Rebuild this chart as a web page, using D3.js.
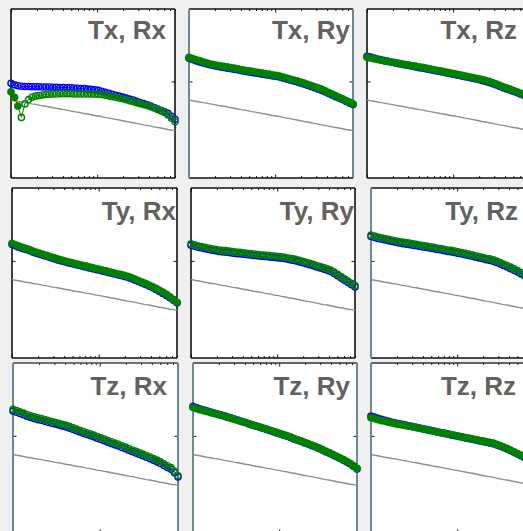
<!DOCTYPE html>
<html>
<head>
<meta charset="utf-8">
<script src="https://cdn.jsdelivr.net/npm/d3@7"></script>
<style>
  html, body { margin: 0; padding: 0; background: #f0f0f0; overflow: hidden; }
  svg { display: block; }
</style>
</head>
<body>
<div id="grid"></div>
<script>
// Frequency axis (log spaced, shared by every panel)
var freq = [1.00, 1.10, 1.20, 1.32, 1.45, 1.60, 1.75, 1.92, 2.11, 2.32, 2.54, 2.79, 3.06, 3.36, 3.69, 4.05,
  4.45, 4.88, 5.36, 5.88, 6.46, 7.09, 7.78, 8.54, 9.37, 10.3, 11.3, 12.4, 13.6, 14.9, 16.4, 18.0,
  19.8, 21.7, 23.8, 26.2, 28.7, 31.5, 34.6, 38.0, 41.7, 45.8, 50.2, 55.1, 60.5, 66.4, 72.9, 80.0];

// Tick values
var majorTicks = [1, 10];
var minorTicks = [2, 3, 4, 5, 6, 7, 8, 9, 20, 30, 40, 50, 60, 70, 80];
var yTicks = [-60];

// Panel titles
var titles = ["Tx, Rx", "Tx, Ry", "Tx, Rz", "Ty, Rx", "Ty, Ry", "Ty, Rz", "Tz, Rx", "Tz, Ry", "Tz, Rz"];

// Reference (gray) curve, same in every panel
var reference = [-67.7, -68.0, -68.2, -68.5, -68.8, -69.0, -69.3, -69.5, -69.8, -70.1, -70.3, -70.6, -70.9, -71.1, -71.4, -71.7,
  -71.9, -72.2, -72.5, -72.7, -73.0, -73.3, -73.5, -73.8, -74.1, -74.3, -74.6, -74.9, -75.2, -75.4, -75.7, -76.0,
  -76.3, -76.6, -76.8, -77.1, -77.4, -77.7, -78.0, -78.2, -78.5, -78.8, -79.1, -79.3, -79.6, -79.9, -80.1, -80.4];

// Blue / green series per panel (dB)
var txRxBlue = [-60.8, -61.4, -61.8, -62.0, -62.1, -62.1, -62.2, -62.2, -62.2, -62.3, -62.3, -62.3, -62.4, -62.4, -62.5, -62.5,
  -62.6, -62.6, -62.7, -62.8, -62.9, -63.0, -63.2, -63.3, -63.5, -63.7, -64.1, -64.5, -64.9, -65.3, -65.7, -66.1,
  -66.5, -66.9, -67.3, -67.7, -68.2, -68.7, -69.2, -69.7, -70.2, -70.8, -71.4, -72.0, -72.6, -73.2, -74.4, -75.7];
var txRxGreen = [-64.3, -66.6, -70.2, -74.9, -69.3, -67.5, -66.6, -66.1, -65.8, -65.6, -65.4, -65.3, -65.2, -65.2, -65.1, -65.1,
  -65.1, -65.1, -65.2, -65.2, -65.2, -65.2, -65.2, -65.2, -65.3, -65.3, -65.4, -65.7, -66.0, -66.3, -66.6, -66.9,
  -67.2, -67.6, -68.0, -68.4, -68.8, -69.2, -69.6, -70.0, -70.5, -71.0, -71.6, -72.2, -72.9, -73.9, -75.2, -76.7];

var txRyBlue = [-50.4, -50.9, -51.4, -51.9, -52.3, -52.7, -53.1, -53.4, -53.7, -54.0, -54.2, -54.5, -54.7, -55.0, -55.2, -55.5,
  -55.8, -56.0, -56.3, -56.5, -56.7, -57.0, -57.2, -57.4, -57.7, -57.9, -58.2, -58.6, -59.0, -59.4, -59.8, -60.2,
  -60.7, -61.1, -61.6, -62.1, -62.6, -63.1, -63.7, -64.3, -65.0, -65.6, -66.3, -66.9, -67.5, -68.2, -68.9, -69.6];
var txRyGreen = [-50.0, -50.5, -51.0, -51.4, -51.9, -52.3, -52.7, -53.0, -53.3, -53.5, -53.8, -54.0, -54.3, -54.5, -54.8, -55.1,
  -55.4, -55.6, -55.8, -56.1, -56.3, -56.5, -56.8, -57.0, -57.3, -57.5, -57.8, -58.2, -58.6, -59.0, -59.4, -59.8,
  -60.3, -60.7, -61.2, -61.7, -62.2, -62.7, -63.2, -63.9, -64.6, -65.2, -65.9, -66.6, -67.2, -67.9, -68.6, -69.3];

var txRzBlue = [-49.6, -49.9, -50.3, -50.7, -51.0, -51.4, -51.7, -52.0, -52.3, -52.6, -52.9, -53.2, -53.4, -53.7, -54.0, -54.3,
  -54.5, -54.8, -55.1, -55.4, -55.7, -55.9, -56.2, -56.5, -56.8, -57.1, -57.4, -57.7, -58.0, -58.3, -58.6, -58.9,
  -59.2, -59.6, -60.0, -60.4, -60.9, -61.4, -62.0, -62.6, -63.1, -63.6, -64.1, -64.6, -65.2, -65.8, -66.4, -67.1];
var txRzGreen = [-50.0, -50.3, -50.6, -50.9, -51.2, -51.5, -51.7, -52.0, -52.2, -52.5, -52.7, -53.0, -53.2, -53.5, -53.7, -54.0,
  -54.2, -54.5, -54.8, -55.1, -55.4, -55.6, -55.9, -56.2, -56.5, -56.8, -57.1, -57.4, -57.7, -58.0, -58.3, -58.6,
  -58.9, -59.2, -59.6, -60.0, -60.5, -61.0, -61.6, -62.2, -62.7, -63.2, -63.8, -64.3, -64.9, -65.5, -66.1, -66.8];

var tyRxBlue = [-53.2, -53.8, -54.4, -54.9, -55.3, -55.8, -56.4, -56.9, -57.3, -57.8, -58.2, -58.7, -59.1, -59.6, -60.0, -60.4,
  -60.8, -61.1, -61.5, -61.8, -62.2, -62.5, -62.9, -63.2, -63.6, -63.9, -64.3, -64.6, -65.0, -65.3, -65.7, -66.0,
  -66.4, -66.8, -67.3, -67.9, -68.5, -69.1, -69.7, -70.4, -71.0, -71.8, -72.6, -73.4, -74.3, -75.2, -76.2, -77.3];
var tyRxGreen = [-52.8, -53.4, -53.9, -54.4, -54.9, -55.4, -56.0, -56.5, -56.9, -57.4, -57.8, -58.3, -58.7, -59.2, -59.6, -60.0,
  -60.4, -60.7, -61.1, -61.4, -61.8, -62.1, -62.5, -62.8, -63.2, -63.5, -63.9, -64.2, -64.6, -64.9, -65.3, -65.6,
  -66.0, -66.4, -66.9, -67.5, -68.1, -68.7, -69.3, -70.0, -70.6, -71.3, -72.1, -72.9, -73.8, -74.8, -75.9, -77.1];

var tyRyBlue = [-53.6, -54.0, -54.4, -54.7, -55.0, -55.3, -55.6, -55.8, -56.1, -56.3, -56.4, -56.6, -56.8, -57.0, -57.1, -57.3,
  -57.5, -57.6, -57.8, -57.9, -58.1, -58.2, -58.3, -58.5, -58.6, -58.8, -58.9, -59.1, -59.4, -59.7, -60.0, -60.4,
  -60.8, -61.2, -61.6, -62.0, -62.5, -62.9, -63.4, -63.9, -64.4, -65.2, -66.1, -67.1, -68.0, -68.9, -69.8, -70.8];
var tyRyGreen = [-53.0, -53.4, -53.8, -54.1, -54.4, -54.7, -55.0, -55.2, -55.5, -55.7, -55.8, -56.0, -56.2, -56.4, -56.5, -56.7,
  -56.9, -57.0, -57.2, -57.3, -57.5, -57.6, -57.7, -57.9, -58.0, -58.2, -58.3, -58.5, -58.8, -59.1, -59.4, -59.8,
  -60.2, -60.6, -61.0, -61.4, -61.9, -62.3, -62.8, -63.3, -63.8, -64.6, -65.5, -66.5, -67.4, -68.3, -69.2, -70.2];

var tyRzBlue = [-50.0, -50.4, -50.8, -51.1, -51.4, -51.7, -52.0, -52.3, -52.6, -52.9, -53.1, -53.3, -53.6, -53.8, -54.1, -54.3,
  -54.5, -54.8, -55.0, -55.3, -55.5, -55.8, -56.1, -56.3, -56.6, -56.9, -57.2, -57.5, -57.8, -58.1, -58.5, -58.8,
  -59.1, -59.5, -59.8, -60.2, -60.7, -61.3, -61.9, -62.5, -63.2, -63.9, -64.6, -65.4, -66.2, -67.0, -67.9, -68.8];
var tyRzGreen = [-49.4, -49.8, -50.2, -50.5, -50.8, -51.1, -51.4, -51.7, -52.0, -52.3, -52.5, -52.7, -53.0, -53.2, -53.5, -53.7,
  -53.9, -54.2, -54.4, -54.7, -54.9, -55.2, -55.5, -55.7, -56.0, -56.3, -56.6, -56.9, -57.2, -57.5, -57.9, -58.2,
  -58.5, -58.9, -59.2, -59.6, -60.1, -60.7, -61.3, -61.9, -62.6, -63.3, -64.0, -64.8, -65.6, -66.4, -67.3, -68.2];

var tzRxBlue = [-49.8, -50.3, -50.8, -51.3, -51.9, -52.4, -52.9, -53.3, -53.6, -54.0, -54.4, -54.8, -55.1, -55.5, -55.9, -56.3,
  -56.8, -57.3, -57.9, -58.4, -58.9, -59.4, -59.9, -60.4, -61.0, -61.5, -62.0, -62.6, -63.1, -63.7, -64.2, -64.8,
  -65.3, -65.9, -66.5, -67.1, -67.7, -68.2, -68.8, -69.4, -70.0, -70.7, -71.4, -72.2, -73.0, -73.8, -75.2, -76.9];
var tzRxGreen = [-49.1, -49.6, -50.1, -50.6, -51.2, -51.7, -52.2, -52.6, -52.9, -53.3, -53.7, -54.1, -54.4, -54.8, -55.2, -55.6,
  -56.1, -56.6, -57.2, -57.7, -58.2, -58.7, -59.2, -59.7, -60.3, -60.8, -61.3, -61.9, -62.4, -63.0, -63.5, -64.1,
  -64.6, -65.2, -65.8, -66.4, -67.0, -67.5, -68.1, -68.7, -69.3, -70.0, -70.7, -71.5, -72.3, -73.1, -74.6, -76.4];

var tzRyBlue = [-47.9, -48.4, -48.9, -49.3, -49.7, -50.2, -50.6, -51.0, -51.4, -51.8, -52.3, -52.7, -53.2, -53.6, -54.1, -54.5,
  -55.0, -55.5, -55.9, -56.4, -56.9, -57.3, -57.8, -58.3, -58.8, -59.2, -59.7, -60.2, -60.7, -61.3, -61.8, -62.3,
  -62.9, -63.4, -64.0, -64.5, -65.1, -65.8, -66.5, -67.1, -67.8, -68.5, -69.2, -69.9, -70.7, -71.5, -72.5, -73.6];
var tzRyGreen = [-48.3, -48.8, -49.2, -49.6, -50.0, -50.4, -50.8, -51.1, -51.5, -51.9, -52.4, -52.8, -53.2, -53.7, -54.1, -54.5,
  -55.0, -55.4, -55.9, -56.3, -56.8, -57.2, -57.7, -58.1, -58.6, -59.1, -59.5, -60.0, -60.5, -61.1, -61.6, -62.1,
  -62.7, -63.2, -63.8, -64.3, -64.9, -65.6, -66.3, -66.9, -67.6, -68.3, -69.0, -69.7, -70.5, -71.3, -72.3, -73.4];

var tzRzBlue = [-51.9, -52.3, -52.8, -53.2, -53.6, -54.0, -54.4, -54.7, -55.0, -55.3, -55.6, -55.9, -56.2, -56.5, -56.8, -57.1,
  -57.4, -57.7, -58.0, -58.4, -58.7, -59.0, -59.3, -59.6, -59.9, -60.2, -60.5, -60.8, -61.1, -61.4, -61.7, -62.0,
  -62.3, -62.6, -62.9, -63.2, -63.7, -64.2, -64.8, -65.4, -66.1, -66.8, -67.5, -68.2, -69.0, -69.8, -70.6, -71.5];
var tzRzGreen = [-52.5, -52.9, -53.3, -53.7, -54.0, -54.4, -54.7, -55.0, -55.3, -55.5, -55.8, -56.0, -56.3, -56.6, -56.9, -57.2,
  -57.5, -57.8, -58.1, -58.4, -58.7, -58.9, -59.2, -59.5, -59.8, -60.1, -60.4, -60.7, -60.9, -61.2, -61.5, -61.8,
  -62.1, -62.4, -62.7, -63.0, -63.5, -64.0, -64.6, -65.2, -65.9, -66.6, -67.3, -68.0, -68.8, -69.6, -70.4, -71.3];

var blueSeries = [txRxBlue, txRyBlue, txRzBlue, tyRxBlue, tyRyBlue, tyRzBlue, tzRxBlue, tzRyBlue, tzRzBlue];
var greenSeries = [txRxGreen, txRyGreen, txRzGreen, tyRxGreen, tyRyGreen, tyRzGreen, tzRxGreen, tzRyGreen, tzRzGreen];
// open markers = negative sign; Tx,Rx green starts with three positive points
var openMarkers = [true, false, false, false, true, true, true, false, false];
var txRxGreenPositive = 3;

// Layout of the 3x3 grid (pixel boxes as in the screenshot)
var svgWidth = 523;
var svgHeight = 531;
var dark = "#111";
var slate = "#6f8892";
var boxes = [
  {x: 11,  y: 9,   w: 164, h: 169, tx: 166, ty: 39,  edge: [dark, dark, dark, dark]},
  {x: 189, y: 9,   w: 164, h: 169, tx: 350, ty: 39,  edge: [dark, slate, dark, slate]},
  {x: 367, y: 9,   w: 164, h: 169, tx: 517, ty: 39,  edge: [dark, dark, dark, dark]},
  {x: 12,  y: 188, w: 165, h: 170, tx: 176, ty: 220, edge: [dark, dark, dark, dark]},
  {x: 191, y: 188, w: 164, h: 170, tx: 354, ty: 220, edge: [dark, dark, dark, dark]},
  {x: 371, y: 188, w: 164, h: 170, tx: 518, ty: 220, edge: [dark, dark, dark, slate]},
  {x: 13,  y: 363, w: 165, h: 170, tx: 167, ty: 395, edge: ["#3c4a50", slate, dark, slate]},
  {x: 193, y: 363, w: 164, h: 170, tx: 350, ty: 395, edge: ["#2c3438", slate, dark, slate]},
  {x: 371, y: 363, w: 164, h: 170, tx: 516, ty: 395, edge: ["#2c3438", dark, dark, slate]}
];

var svg = d3.select("#grid")
  .append("svg")
  .attr("width", svgWidth)
  .attr("height", svgHeight);

svg.append("rect")
  .attr("width", svgWidth)
  .attr("height", svgHeight)
  .attr("fill", "#f0f0f0");

boxes.forEach(function(b, i) {
  var g = svg.append("g").attr("transform", `translate(${b.x},${b.y})`);

  var x = d3.scaleLog().domain([1, 80]).range([0, b.w]);
  var y = d3.scaleLinear().domain([-100, -30]).range([b.h, 0]);

  // white plotting area
  g.append("rect").attr("width", b.w).attr("height", b.h).attr("fill", "#fff");

  // ticks, all pointing inward
  function ticks(axis, size, values, tr) {
    var a = g.append("g")
      .attr("transform", tr)
      .call(axis.tickValues(values).tickSize(size).tickFormat(""));
    a.select(".domain").remove();
    a.selectAll("line").attr("stroke", "#111").attr("stroke-width", 1);
  }
  ticks(d3.axisTop(x), 2, minorTicks, `translate(0,${b.h})`);
  ticks(d3.axisTop(x), 3.5, majorTicks, `translate(0,${b.h})`);
  ticks(d3.axisBottom(x), 2, minorTicks, "translate(0,0)");
  ticks(d3.axisBottom(x), 3.5, majorTicks, "translate(0,0)");
  ticks(d3.axisRight(y), 3.5, yTicks, "translate(0,0)");
  ticks(d3.axisLeft(y), 3.5, yTicks, `translate(${b.w},0)`);

  // box edges: top, right, bottom, left
  var edges = [[0, 0, b.w, 0], [b.w, 0, b.w, b.h], [0, b.h, b.w, b.h], [0, 0, 0, b.h]];
  edges.forEach(function(e, k) {
    g.append("line")
      .attr("x1", e[0]).attr("y1", e[1]).attr("x2", e[2]).attr("y2", e[3])
      .attr("stroke", b.edge[k])
      .attr("stroke-width", b.edge[k] === slate ? 2 : 1.6);
  });

  var line = d3.line()
    .x(function(d, k) { return x(freq[k]); })
    .y(function(d) { return y(d); });

  // gray reference
  g.append("path")
    .attr("d", line(reference))
    .attr("fill", "none")
    .attr("stroke", "#8e8e8e")
    .attr("stroke-width", 1.4);

  // blue then green, line + circle markers
  [[blueSeries[i], "#0000ff"], [greenSeries[i], "#008000"]].forEach(function(s, si) {
    var vals = s[0], color = s[1];
    g.append("path")
      .attr("d", line(vals))
      .attr("fill", "none")
      .attr("stroke", color)
      .attr("stroke-width", 1);

    g.selectAll(null)
      .data(vals)
      .enter()
      .append("circle")
      .attr("cx", function(d, k) { return x(freq[k]); })
      .attr("cy", function(d) { return y(d); })
      .each(function(d, k) {
        var open = openMarkers[i];
        if (i === 0 && si === 1 && k < txRxGreenPositive) open = false;
        d3.select(this)
          .attr("r", open ? 3.1 : 3.6)
          .attr("fill", open ? "none" : color)
          .attr("stroke", color)
          .attr("stroke-width", open ? 1.4 : 0.6);
      });
  });

  // panel title
  g.append("text")
    .attr("x", b.tx - b.x)
    .attr("y", b.ty - b.y)
    .attr("text-anchor", "end")
    .attr("font-family", "'Liberation Sans', Arial, sans-serif")
    .attr("font-weight", "bold")
    .attr("font-size", 26)
    .attr("fill", "#626262")
    .text(titles[i]);
});
</script>
</body>
</html>
